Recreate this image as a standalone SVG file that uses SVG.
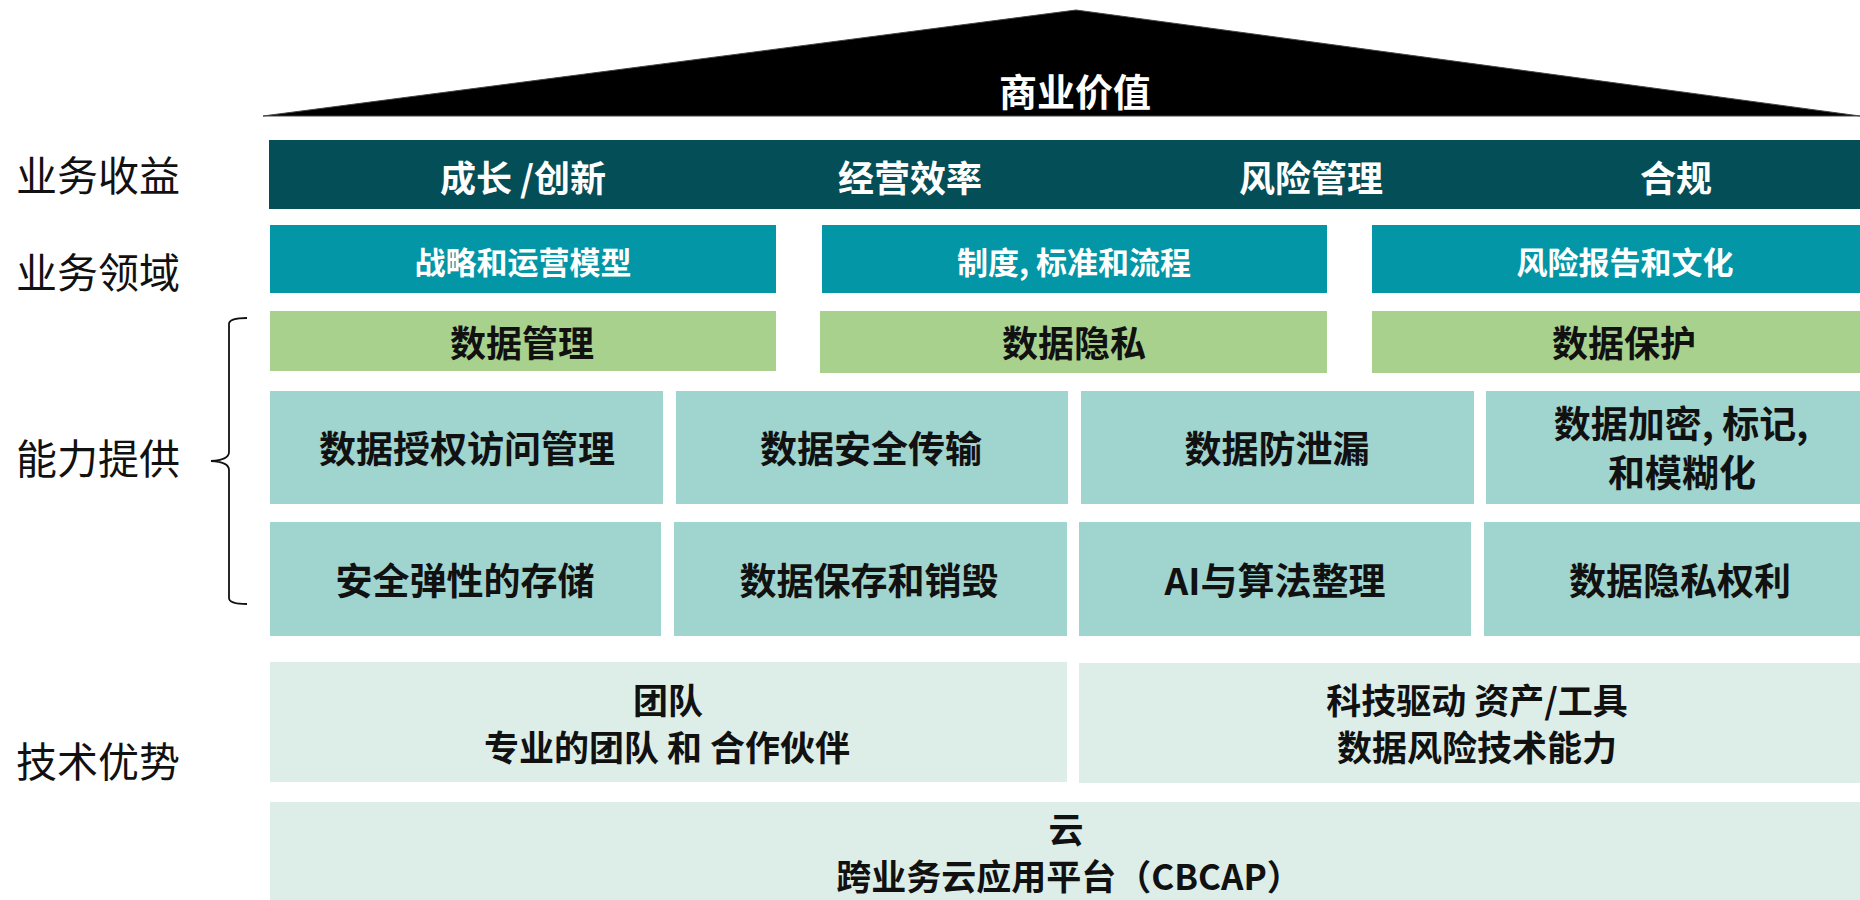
<svg xmlns="http://www.w3.org/2000/svg" width="1860" height="900" viewBox="0 0 1860 900">
<style>
text{font-family:"Noto Sans CJK SC","Microsoft YaHei","Liberation Sans",sans-serif;text-anchor:middle;dominant-baseline:central}
.lbl{font-size:41px;font-weight:400;fill:#111;text-anchor:start}
.w{fill:#fff;font-weight:700}
.k{fill:#111;font-weight:700}
.band{fill:#034E57}
.dom{fill:#0296A6}
.grn{fill:#A9D18E}
.cap{fill:#A0D4CF}
.adv{fill:#DDEEE9}
</style>
<rect width="1860" height="900" fill="#fff"/>
<g id="roof">
<polygon points="263,116 1076,10 1860,116" fill="#000" stroke="#444" stroke-width="1"/>
<text class="w" x="1075" y="89" font-size="38">商业价值</text>
</g>
<g id="labels">
<text class="lbl" x="16" y="173">业务收益</text>
<text class="lbl" x="16" y="270">业务领域</text>
<text class="lbl" x="16" y="456">能力提供</text>
<text class="lbl" x="16" y="759">技术优势</text>
</g>
<g id="connectors">
<path d="M247,318 Q229,318 229,324 L229,452 Q229,460 211,461 Q229,462 229,470 L229,598 Q229,604 247,604" fill="none" stroke="#111" stroke-width="1.8"/>
</g>
<g id="benefits">
<rect class="band" x="269" y="140" width="1591" height="69"/>
<text class="w" x="523" y="176" font-size="36">成长 /创新</text>
<text class="w" x="910" y="176" font-size="36">经营效率</text>
<text class="w" x="1311" y="176" font-size="36">风险管理</text>
<text class="w" x="1676" y="176" font-size="36">合规</text>
</g>
<g id="domain-1"><rect class="dom" x="270" y="225" width="506" height="68"/><text class="w" x="523" y="260" font-size="31">战略和运营模型</text></g>
<g id="domain-2"><rect class="dom" x="822" y="225" width="505" height="68"/><text class="w" x="1074" y="260" font-size="31">制度, 标准和流程</text></g>
<g id="domain-3"><rect class="dom" x="1372" y="225" width="488" height="68"/><text class="w" x="1625" y="260" font-size="31">风险报告和文化</text></g>
<g id="pillar-1"><rect class="grn" x="270" y="311" width="506" height="60"/><text class="k" x="522" y="341" font-size="36">数据管理</text></g>
<g id="pillar-2"><rect class="grn" x="820" y="311" width="507" height="62"/><text class="k" x="1074" y="341" font-size="36">数据隐私</text></g>
<g id="pillar-3"><rect class="grn" x="1372" y="311" width="488" height="62"/><text class="k" x="1624" y="341" font-size="36">数据保护</text></g>
<g id="cap-1"><rect class="cap" x="270" y="391" width="393" height="113"/><text class="k" x="467" y="447" font-size="37">数据授权访问管理</text></g>
<g id="cap-2"><rect class="cap" x="676" y="391" width="392" height="113"/><text class="k" x="871" y="447" font-size="37">数据安全传输</text></g>
<g id="cap-3"><rect class="cap" x="1081" y="391" width="393" height="113"/><text class="k" x="1277" y="447" font-size="37">数据防泄漏</text></g>
<g id="cap-4"><rect class="cap" x="1486" y="391" width="374" height="113"/><text class="k" x="1681" y="422" font-size="37">数据加密, 标记,</text><text class="k" x="1682" y="471" font-size="37">和模糊化</text></g>
<g id="cap-5"><rect class="cap" x="270" y="522" width="391" height="114"/><text class="k" x="465" y="579" font-size="37">安全弹性的存储</text></g>
<g id="cap-6"><rect class="cap" x="674" y="522" width="393" height="114"/><text class="k" x="869" y="579" font-size="37">数据保存和销毁</text></g>
<g id="cap-7"><rect class="cap" x="1079" y="522" width="392" height="114"/><text class="k" x="1275" y="579" font-size="37">AI与算法整理</text></g>
<g id="cap-8"><rect class="cap" x="1484" y="522" width="376" height="114"/><text class="k" x="1680" y="579" font-size="37">数据隐私权利</text></g>
<g id="adv-team"><rect class="adv" x="270" y="662" width="797" height="120"/><text class="k" x="668" y="698" font-size="35">团队</text><text class="k" x="667" y="745" font-size="35">专业的团队 和 合作伙伴</text></g>
<g id="adv-tech"><rect class="adv" x="1079" y="663" width="781" height="120"/><text class="k" x="1477" y="698" font-size="35">科技驱动 资产/工具</text><text class="k" x="1477" y="745" font-size="35">数据风险技术能力</text></g>
<g id="adv-cloud"><rect class="adv" x="270" y="802" width="1590" height="98"/><text class="k" x="1066" y="827" font-size="35">云</text><text class="k" x="1069" y="874" font-size="35">跨业务云应用平台（CBCAP）</text></g>
</svg>
